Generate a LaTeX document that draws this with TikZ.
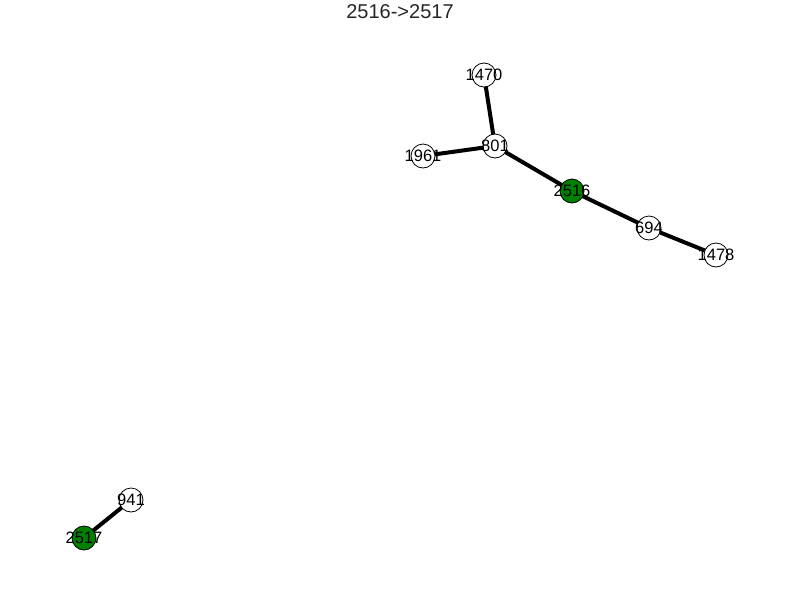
\documentclass[tikz,border=0pt]{standalone}
\usepackage{fontspec}
\setmainfont{Liberation Sans}
\definecolor{nodegreen}{HTML}{008000}
\definecolor{titlegray}{HTML}{262626}
\begin{document}
\begin{tikzpicture}[x=1pt,y=-1pt,
  vtx/.style={circle,draw=black,line width=0.8pt,fill=white,minimum size=24pt,inner sep=0pt,
    label={[font=\fontsize{16.5}{16.5}\selectfont,inner sep=0pt]center:#1}},
  gvtx/.style={vtx=#1,fill=nodegreen},
  edge/.style={line width=4pt,black}]
\useasboundingbox (0,0) rectangle (800,600);
\node[font=\fontsize{20}{20}\selectfont,text=titlegray] (title) at (400,12) {2516->2517};
\coordinate (c1470) at (484,75);
\coordinate (c801) at (495,146);
\coordinate (c1961) at (423,156);
\coordinate (c2516) at (572,191);
\coordinate (c694) at (649,228);
\coordinate (c1478) at (716,255);
\coordinate (c941) at (131,500);
\coordinate (c2517) at (84,538);
\draw[edge] (c1470) -- (c801);
\draw[edge] (c1961) -- (c801);
\draw[edge] (c801) -- (c2516);
\draw[edge] (c2516) -- (c694);
\draw[edge] (c694) -- (c1478);
\draw[edge] (c941) -- (c2517);
\node[vtx=1470] (n1470) at (c1470) {};
\node[vtx=801] (n801) at (c801) {};
\node[vtx=1961] (n1961) at (c1961) {};
\node[gvtx=2516] (n2516) at (c2516) {};
\node[vtx=694] (n694) at (c694) {};
\node[vtx=1478] (n1478) at (c1478) {};
\node[vtx=941] (n941) at (c941) {};
\node[gvtx=2517] (n2517) at (c2517) {};
\end{tikzpicture}
\end{document}
